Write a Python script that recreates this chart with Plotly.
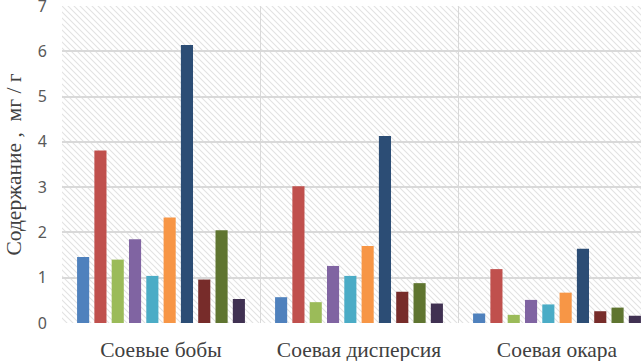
import base64
import plotly.graph_objects as go

categories = ["Соевые бобы", "Соевая дисперсия", "Соевая окара"]
series_values = [
    [1.46, 0.57, 0.21],
    [3.81, 3.02, 1.19],
    [1.40, 0.46, 0.18],
    [1.85, 1.26, 0.51],
    [1.04, 1.04, 0.41],
    [2.33, 1.70, 0.67],
    [6.14, 4.13, 1.64],
    [0.96, 0.69, 0.26],
    [2.05, 0.88, 0.34],
    [0.53, 0.43, 0.16],
]
series_colors = ["#4F81BD", "#C0504D", "#9BBB59", "#8064A2", "#4BACC6",
                 "#F79646", "#2C4D75", "#772C2A", "#5F7530", "#403152"]
y_ticks = [0, 1, 2, 3, 4, 5, 6, 7]
y_title = "Содержание ,  мг / г"

W, H = 641, 361
ml, mr, mt, mb = 62, 0, 6, 38
pw, ph = W - ml - mr, H - mt - mb

# diagonal hatch background (Excel "wide downward diagonal")
p = 6
svg = (
    f'<svg xmlns="http://www.w3.org/2000/svg" width="{pw}" height="{ph}" '
    f'viewBox="0 0 {pw} {ph}" preserveAspectRatio="none">'
    f'<defs><pattern id="h" width="{p}" height="{p}" patternUnits="userSpaceOnUse">'
    f'<path d="M-1,-1 L{p+1},{p+1} M{-p-1},-1 L1,{p+1} M{p-1},-1 L{2*p+1},{p+1}" '
    f'stroke="#E2E2E2" stroke-width="1.1"/></pattern></defs>'
    f'<rect width="{pw}" height="{ph}" fill="white"/>'
    f'<rect width="{pw}" height="{ph}" fill="url(#h)"/></svg>'
)
src = "data:image/svg+xml;base64," + base64.b64encode(svg.encode()).decode()

fig = go.Figure()
for vals, col in zip(series_values, series_colors):
    fig.add_trace(go.Bar(x=categories, y=vals, marker=dict(color=col, line=dict(width=0)),
                         showlegend=False))

fig.update_layout(
    width=W, height=H,
    margin=dict(l=ml, r=mr, t=mt, b=mb, pad=0, autoexpand=False),
    barmode="group", bargap=0.126, bargroupgap=0.3,
    paper_bgcolor="white", plot_bgcolor="rgba(0,0,0,0)",
    images=[dict(source=src, xref="paper", yref="paper", x=0, y=1,
                 sizex=1, sizey=1, sizing="stretch", layer="below",
                 xanchor="left", yanchor="top")],
    xaxis=dict(
        type="category", range=[-0.5, -0.5 + pw / 198.0], automargin=False,
        tickson="boundaries", showgrid=True, gridcolor="#D9D9D9", gridwidth=1.3,
        ticks="", showline=False, zeroline=False,
        tickfont=dict(family="Liberation Serif", size=21.5, color="#404040"),
        ticklabelstandoff=11, ticklabeloverflow="allow",
    ),
    yaxis=dict(
        range=[0, 7], tickvals=y_ticks, showgrid=True, gridcolor="#D9D9D9", gridwidth=1.5,
        zeroline=False, showline=False, ticks="", automargin=False,
        tickfont=dict(family="Noto Sans", size=16, color="#595959"),
        ticklabelstandoff=14, ticklabeloverflow="allow",
        title=dict(text=y_title, font=dict(family="Liberation Serif", size=21.5, color="#404040"),
                   standoff=10),
    ),
)
fig.write_html("out.html", config={"displayModeBar": False},
               post_script="document.body.style.margin='0';document.body.style.overflow='hidden';")
